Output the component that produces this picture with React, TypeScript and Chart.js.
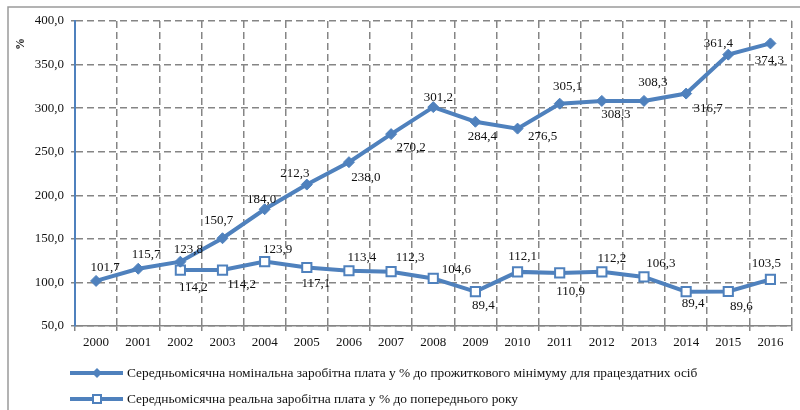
import React, { useEffect, useRef } from 'react';
import { Chart, registerables } from 'chart.js';

Chart.register(...registerables);

// ---- data ----
const years = ['2000', '2001', '2002', '2003', '2004', '2005', '2006', '2007', '2008', '2009', '2010', '2011', '2012', '2013', '2014', '2015', '2016'];
const nominalWage = [101.7, 115.7, 123.8, 150.7, 184.0, 212.3, 238.0, 270.2, 301.2, 284.4, 276.5, 305.1, 308.3, 308.3, 316.7, 361.4, 374.3];
const realWage = [null, null, 114.2, 114.2, 123.9, 117.1, 113.4, 112.3, 104.6, 89.4, 112.1, 110.9, 112.2, 106.3, 89.4, 89.6, 103.5];
const nominalLabel = 'Середньомісячна номінальна заробітна плата у % до прожиткового мінімуму для працездатних осіб';
const realLabel = 'Середньомісячна реальна заробітна плата у % до попереднього року';
const yTitle = '%';
const yMin = 50;
const yMax = 400;
const yStep = 50;

// ---- label placement (offset from point, px) ----
const nominalLabelOffsets = [
  [9, -13], [8, -14], [8, -12], [-4, -18], [-3, -10], [-12, -11], [17, 15], [20, 13],
  [5, -10], [7, 15], [25, 8], [8, -17], [14, 14], [9, -18], [22, 15], [-10, -11], [-1, 17],
];
const realLabelOffsets = [
  null, null, [13, 18], [19, 15], [13, -12], [9, 16], [13, -13], [19, -14],
  [23, -9], [8, 14], [5, -15], [11, 19], [10, -13], [17, -13], [7, 12], [13, 15], [-4, -16],
];

const FONT = '"Liberation Serif", "Times New Roman", serif';
const BLUE = '#4f81bd';
const GRID = '#858585';

const fmt = (v: number) => v.toFixed(1).replace('.', ',');

function drawDiamond(ctx: CanvasRenderingContext2D, x: number, y: number, r: number) {
  ctx.beginPath();
  ctx.moveTo(x - r, y);
  ctx.lineTo(x, y - r);
  ctx.lineTo(x + r, y);
  ctx.lineTo(x, y + r);
  ctx.closePath();
  ctx.fillStyle = BLUE;
  ctx.fill();
}

function drawSquare(ctx: CanvasRenderingContext2D, x: number, y: number, s: number) {
  ctx.fillStyle = '#ffffff';
  ctx.fillRect(x - s / 2, y - s / 2, s, s);
  ctx.strokeStyle = BLUE;
  ctx.lineWidth = 2;
  ctx.strokeRect(x - s / 2, y - s / 2, s, s);
}

const decorPlugin = {
  id: 'decor',
  beforeDraw(chart: any) {
    const ctx = chart.ctx as CanvasRenderingContext2D;
    ctx.save();
    ctx.strokeStyle = '#9a9a9a';
    ctx.lineWidth = 1.5;
    ctx.beginPath();
    ctx.moveTo(8, 410);
    ctx.lineTo(8, 7);
    ctx.lineTo(800, 7);
    ctx.stroke();
    ctx.restore();
  },
  afterDatasetsDraw(chart: any) {
    const ctx = chart.ctx as CanvasRenderingContext2D;
    ctx.save();
    ctx.font = `13px ${FONT}`;
    ctx.fillStyle = '#111';
    ctx.textAlign = 'center';
    ctx.textBaseline = 'middle';
    const offsetSets = [nominalLabelOffsets, realLabelOffsets];
    chart.data.datasets.forEach((ds: any, di: number) => {
      const meta = chart.getDatasetMeta(di);
      meta.data.forEach((pt: any, i: number) => {
        const v = ds.data[i];
        const off = offsetSets[di][i];
        if (v == null || !off) return;
        ctx.fillText(fmt(v), pt.x + off[0], pt.y + off[1]);
      });
    });
    ctx.restore();
  },
  afterDraw(chart: any) {
    const ctx = chart.ctx as CanvasRenderingContext2D;
    ctx.save();
    // y-axis title
    ctx.translate(21, 44);
    ctx.rotate(-Math.PI / 2);
    ctx.font = `bold 12px ${FONT}`;
    ctx.fillStyle = '#111';
    ctx.textAlign = 'center';
    ctx.textBaseline = 'middle';
    ctx.fillText(yTitle, 0, 0);
    ctx.restore();

    // legend
    const rows = [
      { text: chart.data.datasets[0].label, y: 373, marker: 'diamond' },
      { text: chart.data.datasets[1].label, y: 399, marker: 'square' },
    ];
    rows.forEach((r) => {
      ctx.save();
      ctx.strokeStyle = BLUE;
      ctx.lineWidth = 4;
      ctx.beginPath();
      ctx.moveTo(70, r.y);
      ctx.lineTo(123, r.y);
      ctx.stroke();
      if (r.marker === 'diamond') drawDiamond(ctx, 97, r.y, 5);
      else drawSquare(ctx, 97, r.y, 8);
      ctx.font = `13.4px ${FONT}`;
      ctx.fillStyle = '#111';
      ctx.textAlign = 'left';
      ctx.textBaseline = 'middle';
      ctx.fillText(r.text, 127, r.y);
      ctx.restore();
    });
  },
};

export default function App() {
  const ref = useRef<HTMLCanvasElement>(null);

  useEffect(() => {
    const canvas = ref.current;
    if (!canvas) return;
    const chart = new Chart(canvas, {
      type: 'line',
      data: {
        labels: years,
        datasets: [
          {
            label: nominalLabel,
            data: nominalWage,
            borderColor: BLUE,
            backgroundColor: BLUE,
            borderWidth: 4,
            pointStyle: 'rectRot',
            pointRadius: 5.5,
            pointBackgroundColor: BLUE,
            pointBorderColor: BLUE,
            pointBorderWidth: 1,
            tension: 0,
          },
          {
            label: realLabel,
            data: realWage,
            borderColor: BLUE,
            backgroundColor: '#ffffff',
            borderWidth: 4,
            pointStyle: 'rect',
            pointRadius: 6.5,
            pointBackgroundColor: '#ffffff',
            pointBorderColor: BLUE,
            pointBorderWidth: 2,
            tension: 0,
          },
        ],
      },
      options: {
        responsive: false,
        animation: false,
        devicePixelRatio: 1,
        layout: { padding: { left: 0, top: 21, right: 4, bottom: 0 } },
        plugins: {
          legend: { display: false },
          tooltip: { enabled: false },
        },
        scales: {
          x: {
            type: 'category',
            offset: true,
            grid: {
              offset: true,
              color: GRID,
              lineWidth: 1.5,
              tickLength: 5,
              drawTicks: true,
            },
            border: { display: true, color: GRID, width: 1.5, dash: [7, 4] },
            ticks: {
              font: { family: FONT, size: 13 },
              color: '#111',
              padding: 4,
              maxRotation: 0,
              autoSkip: false,
            },
            afterFit: (scale: any) => {
              scale.height = 84;
            },
          },
          y: {
            min: yMin,
            max: yMax,
            grid: {
              color: GRID,
              lineWidth: 1.5,
              tickLength: 4,
            },
            border: { display: true, color: BLUE, width: 2, dash: [7, 4] },
            ticks: {
              stepSize: yStep,
              font: { family: FONT, size: 13 },
              color: '#111',
              padding: 7,
              callback: (v: any) => fmt(Number(v)),
            },
            afterFit: (scale: any) => {
              scale.width = 75;
            },
          },
        },
      },
      plugins: [decorPlugin],
    } as any);
    return () => chart.destroy();
  }, []);

  return (
    <canvas
      ref={ref}
      width={800}
      height={410}
      style={{ position: 'absolute', left: 0, top: 0, display: 'block' }}
    />
  );
}
